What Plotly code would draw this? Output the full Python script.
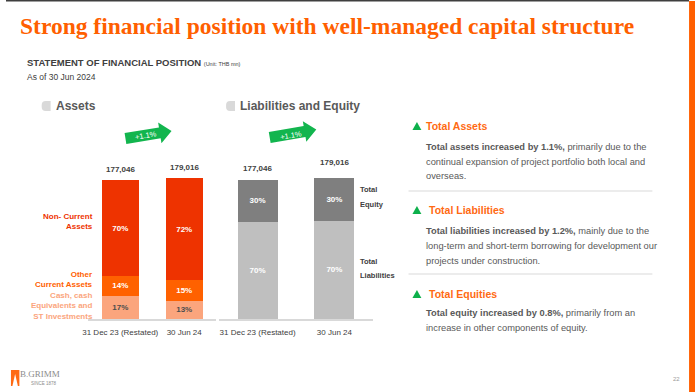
import math
import plotly.graph_objects as go

W, H = 695, 392

# ---------------- data ----------------
periods = ["31 Dec 23 (Restated)", "30 Jun 24"]
totals = [177046, 179016]
total_labels = ["177,046", "179,016"]

cash_pct = [17, 13]
other_current_pct = [14, 15]
non_current_pct = [70, 72]

liab_pct = [70, 70]
equity_pct = [30, 30]

change_label = "+1.1%"

# ---------------- helpers ----------------
def px(x):
    return x / W


def py(y):
    return 1 - y / H


def seg_values(pcts_list):
    out = []
    for i in range(len(totals)):
        s = sum(p[i] for p in pcts_list)
        out.append([totals[i] * p[i] / s for p in pcts_list])
    return out


fig = go.Figure()

# ---- Assets stacked bars ----
asset_series = [cash_pct, other_current_pct, non_current_pct]
asset_colors = ["#FBA57D", "#FF6100", "#EE3300"]
asset_text_colors = ["#4d4d4d", "white", "white"]
vals = seg_values(asset_series)
for k, pcts in enumerate(asset_series):
    fig.add_trace(go.Bar(
        x=periods, y=[vals[i][k] for i in range(len(totals))],
        xaxis="x", yaxis="y", width=0.58,
        marker=dict(color=asset_colors[k], line=dict(width=0)),
        text=[f"<b>{p}%</b>" for p in pcts], textposition="inside",
        insidetextanchor="middle", textangle=0, constraintext="none",
        textfont=dict(family="Liberation Sans, Arial", size=8, color=asset_text_colors[k]),
        showlegend=False, hoverinfo="skip",
    ))

# ---- Liabilities & Equity stacked bars ----
le_series = [liab_pct, equity_pct]
le_colors = ["#BFBFBF", "#7F7F7F"]
vals2 = seg_values(le_series)
for k, pcts in enumerate(le_series):
    fig.add_trace(go.Bar(
        x=periods, y=[vals2[i][k] for i in range(len(totals))],
        xaxis="x2", yaxis="y2", width=0.52,
        marker=dict(color=le_colors[k], line=dict(width=0)),
        text=[f"<b>{p}%</b>" for p in pcts], textposition="inside",
        insidetextanchor="middle", textangle=0, constraintext="none",
        textfont=dict(family="Liberation Sans, Arial", size=8, color="white"),
        showlegend=False, hoverinfo="skip",
    ))

axis_common = dict(type="category", showline=True, linecolor="#D9D9D9", linewidth=1.5,
                   ticks="", showgrid=False, zeroline=False, fixedrange=True,
                   tickfont=dict(family="Liberation Sans, Arial", size=8, color="#404040"),
                   ticklabelstandoff=5)
yaxis_common = dict(range=[0, 200000], visible=False, showgrid=False, zeroline=False, fixedrange=True,
                    domain=[py(319), py(162)])

annotations = []
shapes = []


def txt(x, y, text, size, color="#404040", xanchor="left", yanchor="middle", family="Liberation Sans, Arial",
        angle=0, align="left"):
    annotations.append(dict(x=px(x), y=py(y), xref="paper", yref="paper", text=text, showarrow=False,
                            xanchor=xanchor, yanchor=yanchor, textangle=angle, align=align,
                            font=dict(family=family, size=size, color=color), borderpad=0))


# totals above bars
for i, p in enumerate(periods):
    annotations.append(dict(x=p, y=totals[i], xref="x", yref="y", text=f"<b>{total_labels[i]}</b>",
                            showarrow=False, yanchor="bottom", yshift=4,
                            font=dict(family="Liberation Sans, Arial", size=8, color="#404040")))
for i, p in enumerate(periods):
    annotations.append(dict(x=p, y=totals[i], xref="x2", yref="y2", text=f"<b>{total_labels[i]}</b>",
                            showarrow=False, yanchor="bottom", yshift=5 if i == 0 else 9,
                            font=dict(family="Liberation Sans, Arial", size=8, color="#404040")))

# title
txt(13, 26, "<b>Strong financial position with well-managed capital structure</b>", 23.5, "#FF5F00",
    family="Liberation Serif, Times New Roman")
txt(20, 63, "<b>STATEMENT OF FINANCIAL POSITION</b> <span style='font-size:5.5px'>(Unit: THB mn)</span>", 9.5)
txt(20, 77, "As of 30 Jun 2024", 8.5)

# panel headings
txt(49, 106, "<b>Assets</b>", 12, "#595959")
txt(235, 106, "<b>Liabilities and Equity</b>", 12, "#595959")
for x0 in (36, 222):
    x1 = x0 + 9
    shapes.append(dict(type="path", xref="paper", yref="paper", fillcolor="#D9D9D9", line=dict(width=0),
                       path=f"M {px(x1)},{py(101)} L {px(x0+4)},{py(101)} Q {px(x0)},{py(101)} {px(x0)},{py(105)} "
                            f"L {px(x0)},{py(107)} Q {px(x0)},{py(111)} {px(x0+4)},{py(111)} L {px(x1)},{py(111)} Z"))

# asset side labels
side_c = asset_colors
txt(89, 221, "<b>Non- Current<br>Assets</b>", 8, side_c[2], xanchor="right", align="right")
txt(89, 279, "<b>Other<br>Current Assets</b>", 8, side_c[1], xanchor="right", align="right")
txt(89, 306, "<b>Cash, cash<br>Equivalents and<br>ST Investments</b>", 8, side_c[0], xanchor="right", align="right")

# liabilities side labels
txt(356, 189, "<b>Total</b>", 7.5)
txt(356, 204, "<b>Equity</b>", 7.5)
txt(356, 261, "<b>Total</b>", 7.5)
txt(356, 275, "<b>Liabilities</b>", 7.5)


# green arrows
def arrow(tail, tip, text_pos):
    dx, dy = tip[0] - tail[0], tip[1] - tail[1]
    L = math.hypot(dx, dy)
    ux, uy = dx / L, dy / L
    nx, ny = -uy, ux
    bh, hh, hl = 5.5, 10.5, 12
    local = [(0, -bh), (L - hl, -bh), (L - hl, -hh), (L, 0), (L - hl, hh), (L - hl, bh), (0, bh)]
    pts = [(tail[0] + a * ux + b * nx, tail[1] + a * uy + b * ny) for a, b in local]
    path = "M " + " L ".join(f"{px(x)},{py(y)}" for x, y in pts) + " Z"
    shapes.append(dict(type="path", xref="paper", yref="paper", path=path, fillcolor="#12B54E",
                       line=dict(width=0)))
    ang = math.degrees(math.atan2(dy, dx))
    txt(text_pos[0], text_pos[1], change_label, 7.5, "white", xanchor="center", angle=ang)


arrow((120.5, 138.5), (167, 131), (141, 136))
arrow((266, 137.5), (313, 129.5), (287, 135))

# right panel
heads = [(126, "Total Assets", 423), (210, "Total Liabilities", 426), (294, "Total Equities", 426)]
for y, t, x in heads:
    txt(x, y, f"<b>{t}</b>", 10.5, "#FF6A13")
    shapes.append(dict(type="path", xref="paper", yref="paper", fillcolor="#0DB04B", line=dict(width=0),
                       path=f"M {px(410)},{py(y+4)} L {px(419)},{py(y+4)} L {px(414.5)},{py(y-4)} Z"))

body = [
    (147, "<b>Total assets increased by 1.1%,</b> primarily due to the"),
    (162, "continual expansion of project portfolio both local and"),
    (176, "overseas."),
    (231, "<b>Total liabilities increased by 1.2%,</b> mainly due to the"),
    (246, "long-term and short-term borrowing for development our"),
    (261, "projects under construction."),
    (313, "<b>Total equity increased by 0.8%,</b> primarily from an"),
    (328, "increase in other components of equity."),
]
for y, t in body:
    txt(423, y, t, 9.3, "#595959")

for y in (191, 274):
    shapes.append(dict(type="line", xref="paper", yref="paper", x0=px(406), x1=px(652), y0=py(y), y1=py(y),
                       line=dict(color="#E6E6E6", width=1.5)))

# frame decorations
shapes.append(dict(type="rect", xref="paper", yref="paper", x0=px(689), x1=1, y0=0, y1=py(1),
                   fillcolor="#FF5F00", line=dict(width=0)))
shapes.append(dict(type="rect", xref="paper", yref="paper", x0=0, x1=px(689), y0=py(1.5), y1=1,
                   fillcolor="#3F3F3F", line=dict(width=0)))

# footer logo
shapes.append(dict(type="rect", xref="paper", yref="paper", x0=px(5), x1=px(13.5), y0=py(386), y1=py(370),
                   fillcolor="#FF6A13", line=dict(width=0)))
shapes.append(dict(type="path", xref="paper", yref="paper", fillcolor="white", line=dict(width=0),
                   path=f"M {px(6.5)},{py(386)} L {px(9.2)},{py(374)} L {px(12)},{py(386)} Z"))
txt(13.5, 374, "B.GRIMM", 9, "#8C8C8C", family="Liberation Serif, Times New Roman")
txt(24, 383.5, "SINCE 1878", 4.5, "#8C8C8C")
txt(672, 379, "22", 6, "#9A9A9A")

fig.update_layout(
    width=W, height=H, autosize=False,
    margin=dict(l=0, r=0, t=0, b=0, pad=0),
    paper_bgcolor="white", plot_bgcolor="white",
    barmode="stack", bargap=0.4,
    xaxis=dict(domain=[px(83), px(212)], anchor="y", **axis_common),
    yaxis=dict(anchor="x", **yaxis_common),
    xaxis2=dict(domain=[px(215), px(370)], anchor="y2", **axis_common),
    yaxis2=dict(anchor="x2", **yaxis_common),
    annotations=annotations, shapes=shapes,
    showlegend=False,
)

fig.write_html("out.html", config={"displayModeBar": False},
               post_script="document.body.style.margin='0';document.body.style.padding='0';")
